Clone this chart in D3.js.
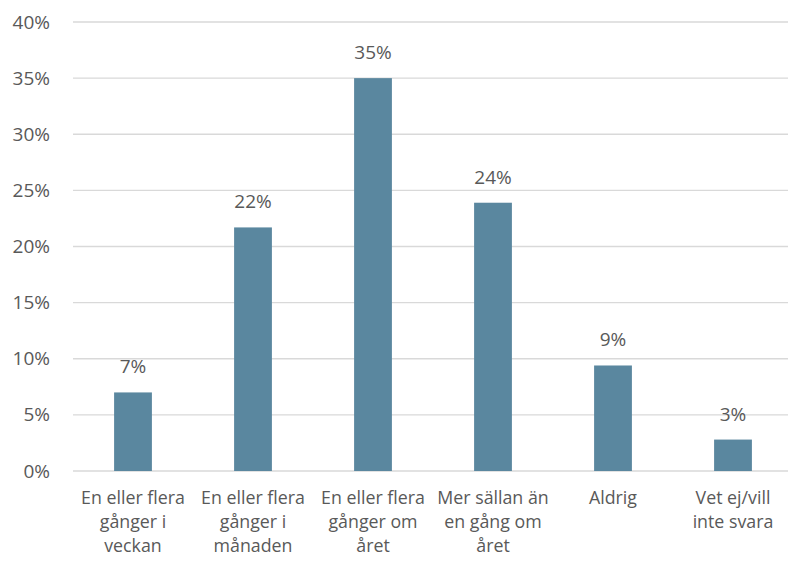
<!DOCTYPE html>
<html>
<head>
<meta charset="utf-8">
<script src="https://cdn.jsdelivr.net/npm/d3@7"></script>
<style>
  body { margin: 0; background: #fff; }
  svg { display: block; font-family: "Open Sans", "Noto Sans", sans-serif; }
</style>
</head>
<body>
<div id="chart"></div>
<script>
// data
var categories = [
    'En eller flera|gånger i|veckan',
    'En eller flera|gånger i|månaden',
    'En eller flera|gånger om|året',
    'Mer sällan än|en gång om|året',
    'Aldrig',
    'Vet ej/vill|inte svara'
];
var values = [7.0, 21.7, 35.0, 23.9, 9.4, 2.8];
var yTicks = [0, 5, 10, 15, 20, 25, 30, 35, 40];

var width = 788, height = 561;
var margin = { top: 22, right: -5, bottom: 90, left: 73 };
var textColor = '#595959';

var svg = d3.select( '#chart' ).append( 'svg' )
    .attr( 'width', width )
    .attr( 'height', height );

var x = d3.scaleBand()
    .domain( categories )
    .range( [ margin.left, width - margin.right ] )
    .paddingInner( 0.685 )
    .paddingOuter( 0.3425 );

var y = d3.scaleLinear()
    .domain( [ 0, 40 ] )
    .range( [ height - margin.bottom, margin.top ] );

// gridlines
svg.append( 'g' )
    .selectAll( 'line' )
    .data( yTicks )
    .join( 'line' )
    .attr( 'x1', margin.left )
    .attr( 'x2', width - margin.right )
    .attr( 'y1', function ( d ) { return y( d ); } )
    .attr( 'y2', function ( d ) { return y( d ); } )
    .attr( 'stroke', '#d9d9d9' )
    .attr( 'stroke-width', 1.3 );

// y axis labels
var yAxis = d3.axisLeft( y )
    .tickValues( yTicks )
    .tickSize( 0 )
    .tickPadding( 23 )
    .tickFormat( function ( d ) { return d + '%'; } );

var yg = svg.append( 'g' )
    .attr( 'transform', 'translate(' + margin.left + ',0)' )
    .call( yAxis );
yg.select( '.domain' ).remove();
yg.selectAll( 'text' )
    .attr( 'fill', textColor )
    .style( 'font-size', '19px' )
    .style( 'font-family', '"Open Sans", sans-serif' );

// bars
svg.append( 'g' )
    .selectAll( 'rect' )
    .data( values )
    .join( 'rect' )
    .attr( 'x', function ( d, i ) { return x( categories[ i ] ); } )
    .attr( 'y', function ( d ) { return y( d ); } )
    .attr( 'width', x.bandwidth() )
    .attr( 'height', function ( d ) { return y( 0 ) - y( d ); } )
    .attr( 'fill', '#5a879f' );

// value labels
svg.append( 'g' )
    .selectAll( 'text' )
    .data( values )
    .join( 'text' )
    .attr( 'x', function ( d, i ) { return x( categories[ i ] ) + x.bandwidth() / 2; } )
    .attr( 'y', function ( d ) { return y( d ) - 19; } )
    .attr( 'text-anchor', 'middle' )
    .attr( 'fill', textColor )
    .style( 'font-size', '19px' )
    .text( function ( d ) { return Math.round( d ) + '%'; } );

// category labels
var xg = svg.append( 'g' );
categories.forEach( function ( c, i ) {
    var t = xg.append( 'text' )
        .attr( 'text-anchor', 'middle' )
        .attr( 'fill', textColor )
        .style( 'font-size', '17.8px' );
    c.split( '|' ).forEach( function ( line, j ) {
        t.append( 'tspan' )
            .attr( 'x', x( c ) + x.bandwidth() / 2 )
            .attr( 'y', y( 0 ) + 33 + j * 24 )
            .text( line );
    } );
} );
</script>
</body>
</html>
